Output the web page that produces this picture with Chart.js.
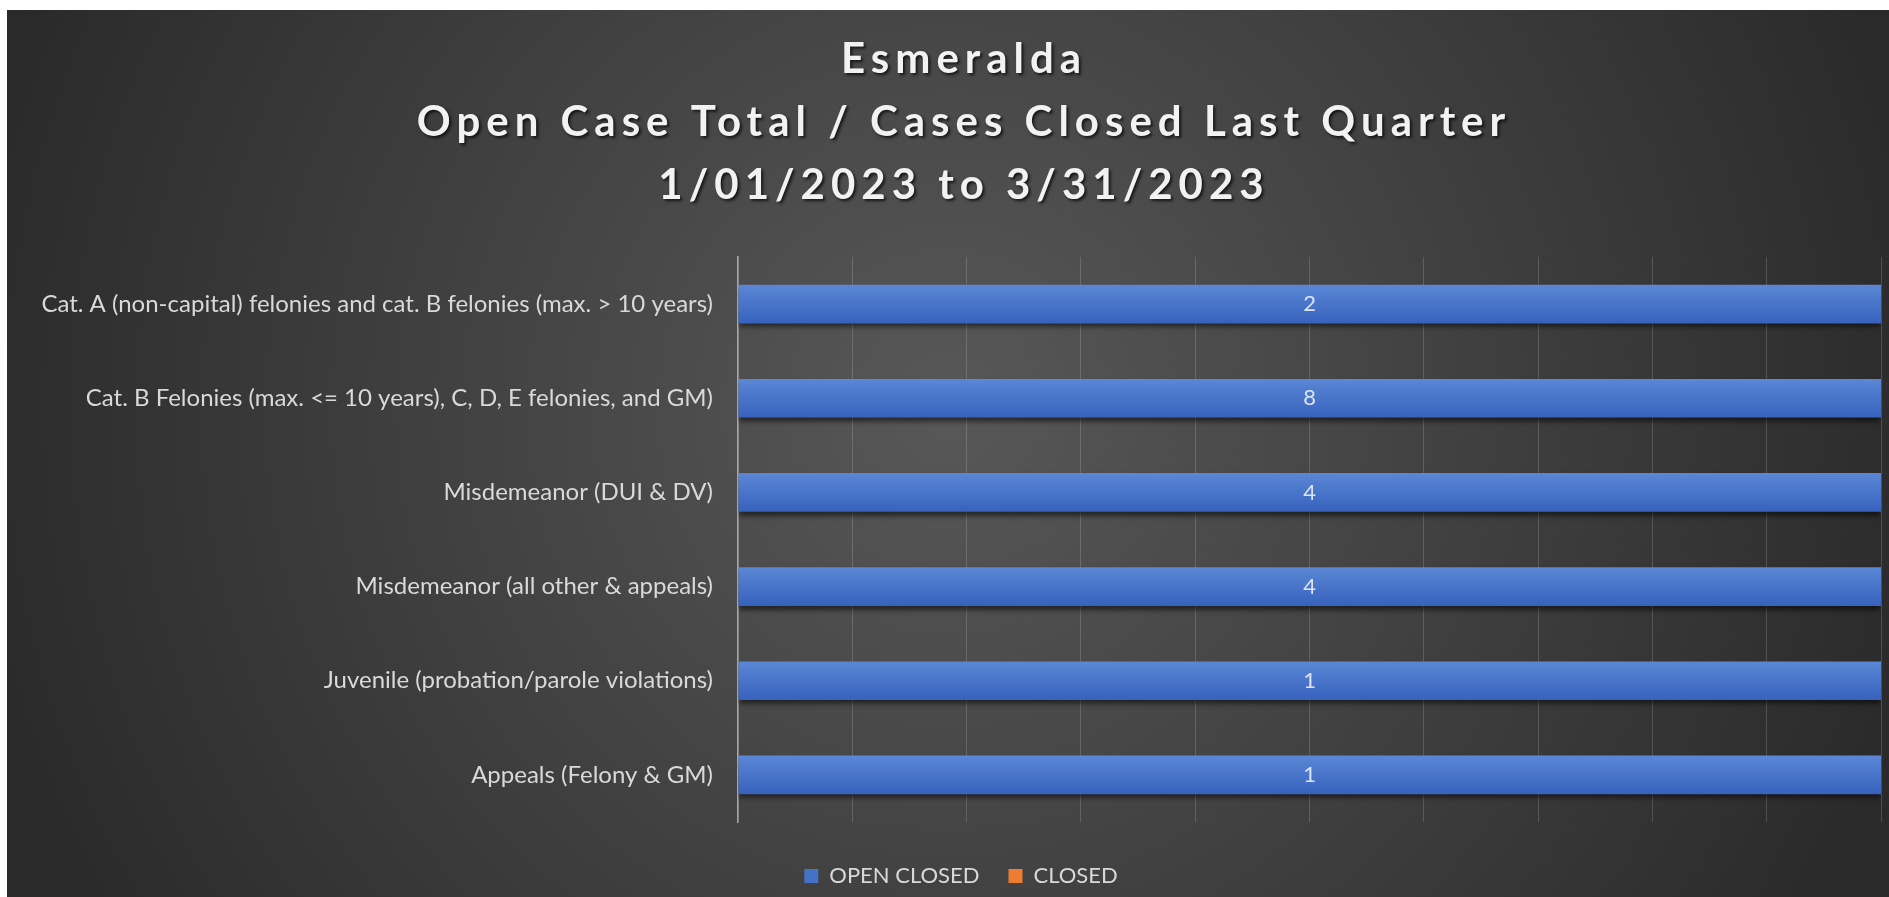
<!DOCTYPE html>
<html>
<head>
<meta charset="utf-8">
<title>Esmeralda</title>
<script src="https://cdn.jsdelivr.net/npm/chart.js@4.4.0/dist/chart.umd.min.js"></script>
<style>
    html, body { margin: 0; padding: 0; background: #fff; }
    .chart-box {
        position: absolute; left: 7px; top: 10px; width: 1882px; height: 887px;
        background: radial-gradient(circle 1000px at 50% 45%, #585858 0%, #2a2a2a 100%);
    }
</style>
</head>
<body>
<div class="chart-box"><canvas class="js-chart"></canvas></div>
<script>
const TITLE_LINES = ['Esmeralda', 'Open Case Total / Cases Closed Last Quarter', '1/01/2023 to 3/31/2023'];
const CATEGORIES = [
    'Cat. A (non-capital) felonies and cat. B felonies (max. > 10 years)',
    'Cat. B Felonies (max. <= 10 years), C, D, E felonies, and GM)',
    'Misdemeanor (DUI & DV)',
    'Misdemeanor (all other & appeals)',
    'Juvenile (probation/parole violations)',
    'Appeals (Felony & GM)'
];
const OPEN_CASES = [2, 8, 4, 4, 1, 1];
const CLOSED_CASES = [0, 0, 0, 0, 0, 0];
const SERIES_NAMES = ['OPEN CLOSED', 'CLOSED'];
const SERIES_COLORS = ['#4472C4', '#ED7D31'];

const ctx = document.querySelector('.js-chart').getContext('2d');

// 100% stacked: each bar is the share of the row total
function share(values, i) {
    const total = OPEN_CASES[i] + CLOSED_CASES[i];
    return total ? values[i] / total * 100 : 0;
}

function barFill(color, light, dark) {
    return (c) => {
        const y = c.chart.scales.y;
        if (!y || !c.chart.chartArea) return color;
        const mid = y.getPixelForValue(c.dataIndex);
        const half = y.height / CATEGORIES.length * 0.41 / 2;
        const g = c.chart.ctx.createLinearGradient(0, mid - half, 0, mid + half);
        g.addColorStop(0, light);
        g.addColorStop(1, dark);
        return g;
    };
}

const titlePlugin = {
    id: 'stackedTitle',
    afterDraw(chart) {
        const c = chart.ctx;
        const spacing = 6;
        const x = (chart.legend.left + chart.legend.right) / 2 + spacing / 2;
        c.save();
        c.font = 'bold 42px Lato';
        c.fillStyle = '#f2f2f2';
        c.textAlign = 'center';
        c.textBaseline = 'middle';
        c.shadowColor = 'rgba(0,0,0,0.7)';
        c.shadowOffsetX = 2;
        c.shadowOffsetY = 2;
        c.shadowBlur = 3;
        c.letterSpacing = spacing + 'px';
        TITLE_LINES.forEach((line, i) => c.fillText(line, x, 49 + i * 63));
        c.restore();
    }
};

const barDecor = {
    id: 'barDecor',
    beforeDatasetsDraw(chart) {
        const c = chart.ctx;
        c.save();
        c.shadowColor = 'rgba(0,0,0,0.55)';
        c.shadowOffsetY = 4;
        c.shadowBlur = 5;
    },
    afterDatasetsDraw(chart) {
        const c = chart.ctx;
        c.restore();
        c.save();
        c.font = '22px Lato';
        c.fillStyle = '#dde3ee';
        c.textAlign = 'center';
        c.textBaseline = 'middle';
        [OPEN_CASES, CLOSED_CASES].forEach((values, d) => {
            chart.getDatasetMeta(d).data.forEach((bar, i) => {
                if (!values[i]) return;
                const p = bar.getCenterPoint();
                c.fillText(values[i], p.x, p.y);
            });
        });
        c.restore();
    }
};

new Chart(ctx, {
    type: 'bar',
    data: {
        labels: CATEGORIES,
        datasets: [{
            label: SERIES_NAMES[0],
            data: OPEN_CASES.map((v, i) => share(OPEN_CASES, i)),
            backgroundColor: barFill(SERIES_COLORS[0], '#5b87d6', '#3762bd'),
            barPercentage: 0.41,
            categoryPercentage: 1
        },
        {
            label: SERIES_NAMES[1],
            data: CLOSED_CASES.map((v, i) => share(CLOSED_CASES, i)),
            backgroundColor: barFill(SERIES_COLORS[1], '#f08c48', '#d96a22'),
            barPercentage: 0.41,
            categoryPercentage: 1
        }]
    },
    options: {
        indexAxis: 'y',
        responsive: true,
        maintainAspectRatio: false,
        animation: false,
        layout: { padding: { top: 247, left: 34, right: 8, bottom: 0 } },
        scales: {
            x: {
                stacked: true,
                min: 0,
                max: 100,
                ticks: { display: false, stepSize: 10 },
                grid: { color: 'rgba(255,255,255,0.16)', drawTicks: false },
                border: { display: false },
                afterFit(scale) { scale.height = 14; }
            },
            y: {
                stacked: true,
                ticks: { color: '#d9d9d9', font: { family: 'Lato', size: 24 }, padding: 25 },
                grid: { display: false, drawTicks: false },
                border: { color: '#a6a6a6', width: 1.5 },
                afterFit(scale) { scale.width = 697; }
            }
        },
        plugins: {
            title: { display: false },
            tooltip: { enabled: false },
            legend: {
                position: 'bottom',
                labels: {
                    color: '#d9d9d9',
                    font: { family: 'Lato', size: 22 },
                    boxWidth: 14,
                    boxHeight: 14,
                    padding: 29,
                    generateLabels: () => SERIES_NAMES.map((name, i) => ({
                        text: name,
                        fillStyle: SERIES_COLORS[i],
                        strokeStyle: SERIES_COLORS[i],
                        lineWidth: 0,
                        fontColor: '#d9d9d9',
                        datasetIndex: i
                    }))
                }
            }
        }
    },
    plugins: [titlePlugin, barDecor]
});
</script>
</body>
</html>
